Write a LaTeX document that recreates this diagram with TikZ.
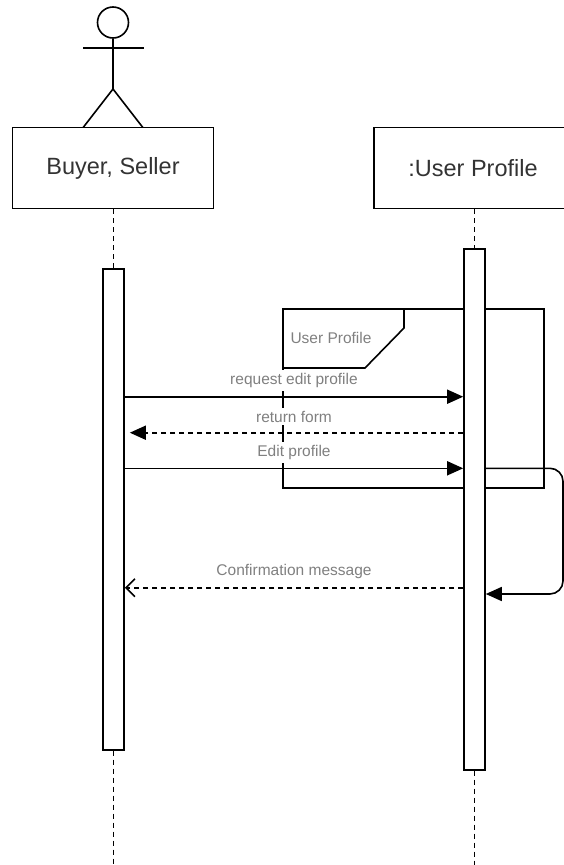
\documentclass[tikz,border=0pt]{standalone}
\usepackage{fontspec}
\setmainfont{Liberation Sans}
\usetikzlibrary{arrows.meta,calc}
\begin{document}
\begin{tikzpicture}[x=1pt,y=-1pt, line width=1.6pt,
  hdr/.style={draw, fill=white, minimum width=201pt, minimum height=81pt, inner sep=0pt, font=\fontsize{23.5}{27}\selectfont, text=black!80},
  actbox/.style={draw, fill=white, minimum width=21pt, inner sep=0pt, anchor=north},
  life/.style={dash pattern=on 5pt off 4pt},
  msg/.style={-{Triangle[length=16pt,width=14pt]}},
  ret/.style={dash pattern=on 5pt off 4pt},
  lbl/.style={fill=white, inner sep=3pt, text=black!50, font=\fontsize{15.5}{18}\selectfont},
  frm/.style={draw},
]
\useasboundingbox (0,0) rectangle (564,865);
\clip (0,0) rectangle (564,865);

% actor
\node[draw, circle, minimum size=31pt, inner sep=0pt] (head) at (113,22.5) {};
\coordinate (hip) at (113,89);
\coordinate (armL) at (83,48);
\coordinate (armR) at (144,48);
\coordinate (footL) at (83,127.7);
\coordinate (footR) at (143,127.7);
\draw (head.south) -- (hip);
\draw (armL) -- (armR);
\draw (footL) -- (hip) -- (footR);

% headers
\node[hdr] (buyer) at (113,168) {Buyer, Seller};
\node[hdr, minimum width=200pt] (prof) at (474,168) {};
\node[font=\fontsize{23.5}{27}\selectfont, text=black!80] (proftxt) at (473,168) {:User Profile};

% activation boxes (placed first for lifelines)
\node[actbox, minimum height=481pt] (act1) at (113.5,268) {};
\node[actbox, minimum height=521pt] (act2) at (474.5,248) {};
\coordinate (end1) at (113.5,865);
\coordinate (end2) at (474.5,865);

% lifelines
\draw[life] (buyer.south -| act1.north) -- (act1.north);
\draw[life] (act1.south) -- (end1);
\draw[life] (prof.south -| act2.north) -- (act2.north);
\draw[life] (act2.south) -- (end2);

% frame
\draw[frm] (283,309) rectangle (544,488);
\draw[frm] (283,368) -- (365,368) -- (404,328) -- (404,309);
\node[text=black!50, font=\fontsize{15.5}{18}\selectfont] (frlbl) at (331,338) {User Profile};

% redraw activation boxes over frame
\node[actbox, minimum height=481pt] at (113.5,268) {};
\node[actbox, minimum height=521pt] at (474.5,248) {};

% messages
\coordinate (y1) at (0,396.7);
\coordinate (y2) at (0,432.7);
\coordinate (y3) at (0,468.3);
\coordinate (y4) at (0,587.7);
\coordinate (y5) at (0,594);
\coordinate (selfc) at (563,594);

\draw[msg] (act1.east |- y1) -- node[lbl, yshift=16pt] {request edit profile} (act2.west |- y1);
\draw[ret, -{Triangle[length=16pt,width=14pt]}, shorten >=5pt] (act2.west |- y2) -- node[lbl, yshift=16pt] {return form} (act1.east |- y2);
\draw[msg] (act1.east |- y3) -- node[lbl, yshift=16pt] {Edit profile} (act2.west |- y3);
\draw[msg, rounded corners=13pt] (act2.east |- y3) -| (selfc) -- (act2.east |- y5);
\draw[ret, -{Straight Barb[length=9pt,width=18pt]}] (act2.west |- y4) -- node[lbl, yshift=16pt] {Confirmation message} (act1.east |- y4);
\end{tikzpicture}
\end{document}
